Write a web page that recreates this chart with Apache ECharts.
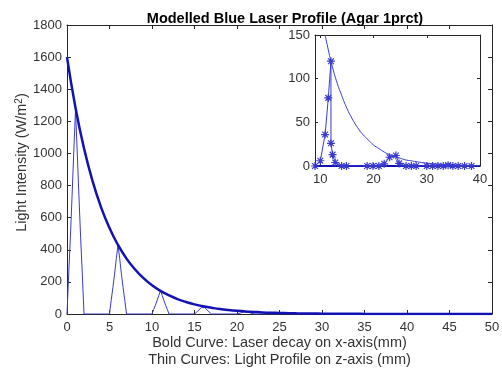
<!DOCTYPE html>
<html>
<head>
<meta charset="utf-8">
<script src="https://cdn.jsdelivr.net/npm/echarts@6/dist/echarts.min.js"></script>
<style>
  html, body { margin: 0; padding: 0; background: #fff; }
  #chart { width: 502px; height: 374px; }
</style>
</head>
<body>
<div id="chart"></div>
<script>
// Bold curve: laser decay along x (mm, W/m^2)
const decayX = [0,1,2,3,4,5,6,7,8,9,10,11,12,13,14,15,16,17,18,19,20,21,22,23,24,25,26,27,28,29,30,31,32,33,34,35,36,37,38,39,40,41,42,43,44,45,46,47,48,49,50];
const decayY = [1600,1285,1032,829,666,535,430,345,278,223,179,144,116,93,75,60,48,39,31,25,20,16,13,10,8,7,5,4,3.4,2.7,2.2,1.8,1.4,1.1,0.9,0.7,0.6,0.5,0.4,0.3,0.2,0.2,0.2,0.1,0.1,0.1,0.1,0,0,0,0];

// Thin curves: light profiles on z
const profileX = [0,0.2,0.4,0.6,0.8,1.0,1.2,1.4,1.6,1.8,2.0,
                  5.0,5.2,5.4,5.6,5.8,6.0,6.2,6.4,6.6,6.8,7.0,
                  10.0,10.2,10.4,10.6,10.8,11.0,11.2,11.4,11.6,11.8,12.0,
                  15.0,15.2,15.4,15.6,15.8,16.0,16.2,16.4,16.6,16.8,17.0,
                  20.0,20.2,20.4,20.6,20.8,21.0,21.2,21.4,21.6,21.8,22.0,
                  25.0,25.4,25.8,26.0,26.2,26.6,27.0,
                  50];
const profileY = [0,250,480,740,1015,1270,1015,740,480,250,0,
                  0,85,165,250,345,430,345,250,165,85,0,
                  0,29,55,84,116,145,116,84,55,29,0,
                  0,10,19,29,40,50,40,29,19,10,0,
                  0,3,6,9,13,16,13,9,6,3,0,
                  0,2,4,5,4,2,0,
                  0];

// Inset: decay curve
const insetDecayX = [10.9,11.5,12,13,14,15,16,17,18,19,20,21,22,23,24,25,26,27,28,29,30,31,32,33,34,35,36,37,38,39,40];
const insetDecayY = [150,133,120,98,81,66,54,44,36,30,24,20,16,13,11,9,7,6,5,4,3.3,2.7,2.2,1.8,1.5,1.2,1,0.8,0.7,0.6,0.5];

// Inset: sampled profile (asterisk markers)
const insetScanX = [9,10,10.9,11.5,12,12,12.3,12.8,14,14.9,18.8,19.9,21,22,23,24.2,24.8,26.1,27.1,28,30,31.1,32.1,33.1,34,34.9,35.9,37.1,38.4];
const insetScanY = [0,6,36,78,120,26,13,4,0,0,0,0,0,2.5,10,12,3,0,0,0,0,0,0,0,1,0,0,0,0];

// Inset: zero baseline
const insetBaseX = [9,40];
const insetBaseY = [0,0];

// Tick labels
const mainXTicks = [0,5,10,15,20,25,30,35,40,45,50];
const mainYTicks = [0,200,400,600,800,1000,1200,1400,1600,1800];
const insetXTicks = [10,20,30,40];
const insetYTicks = [0,50,100,150];

const pairs = (xs, ys) => xs.map((x, i) => [x, ys[i]]);

const FONT = 'Liberation Sans';
const AXIS = '#262626';
const LABEL = '#333333';
const BOLD_BLUE = '#1212b4';
const THIN_BLUE = '#3a3ad0';

const asterisk = 'path://M0,-5L0,5M-5,0L5,0M-3.6,-3.6L3.6,3.6M-3.6,3.6L3.6,-3.6';

function tickAxis(gridIndex, position, min, max, ticks, show, len, margin, extra) {
  return Object.assign({
    type: 'value', gridIndex, position, min, max,
    axisLine: { show: true, onZero: false, lineStyle: { color: AXIS, width: 1 } },
    axisTick: { show: true, inside: true, length: len, lineStyle: { color: AXIS }, customValues: ticks },
    axisLabel: { show: show, color: LABEL, fontFamily: FONT, fontSize: 13, margin: margin,
                 customValues: ticks, formatter: v => String(v) },
    splitLine: { show: false },
    nameMoveOverlap: false
  }, extra || {});
}

const chart = echarts.init(document.getElementById('chart'), null, { renderer: 'canvas' });
chart.setOption({
  backgroundColor: '#ffffff',
  animation: false,
  title: {
    text: 'Modelled Blue Laser Profile (Agar 1prct)',
    left: 280, top: 6, textAlign: 'center',
    textStyle: { fontFamily: FONT, fontSize: 14.5, fontWeight: 'bold', color: '#000' }
  },
  grid: [
    { left: 67, right: 10, top: 25, bottom: 60, outerBoundsMode: 'none' },
    { left: 315, right: 22, top: 35, bottom: 208, outerBoundsMode: 'none',
      show: true, backgroundColor: '#fff', borderWidth: 0 }
  ],
  xAxis: [
    tickAxis(0, 'bottom', 0, 50, mainXTicks, true, 4, 7, {
      name: 'Bold Curve: Laser decay on x-axis(mm)\nThin Curves: Light Profile on z-axis (mm)',
      nameLocation: 'middle', nameGap: 20,
      nameTextStyle: { fontFamily: FONT, fontSize: 14.5, color: LABEL, lineHeight: 17 }
    }),
    tickAxis(0, 'top', 0, 50, mainXTicks, false, 4, 7),
    tickAxis(1, 'bottom', 9, 40, insetXTicks, true, 3, 7),
    tickAxis(1, 'top', 9, 40, insetXTicks, false, 3, 7)
  ],
  yAxis: [
    tickAxis(0, 'left', 0, 1800, mainYTicks, true, 4, 5, {
      name: 'Light Intensity (W/m{sup|2})',
      nameLocation: 'middle', nameGap: 37,
      nameTextStyle: {
        fontFamily: FONT, fontSize: 14.5, color: LABEL, padding: [0, 0, 0, 14],
        rich: { sup: { fontFamily: FONT, fontSize: 10, color: LABEL, verticalAlign: 'top', padding: [0, 0, 6, 0] } }
      }
    }),
    tickAxis(0, 'right', 0, 1800, mainYTicks, false, 4, 5),
    tickAxis(1, 'left', 0, 150, insetYTicks, true, 3, 5),
    tickAxis(1, 'right', 0, 150, insetYTicks, false, 3, 5)
  ],
  series: [
    {
      type: 'line', xAxisIndex: 0, yAxisIndex: 0,
      data: pairs(profileX, profileY),
      showSymbol: false, smooth: false,
      lineStyle: { color: THIN_BLUE, width: 1 }, z: 3
    },
    {
      type: 'line', xAxisIndex: 0, yAxisIndex: 0,
      data: pairs(decayX, decayY),
      showSymbol: false, smooth: true,
      lineStyle: { color: BOLD_BLUE, width: 2.5 }, z: 4
    },
    {
      type: 'line', xAxisIndex: 2, yAxisIndex: 2,
      data: pairs(insetBaseX, insetBaseY),
      showSymbol: false,
      lineStyle: { color: BOLD_BLUE, width: 2 }, z: 5
    },
    {
      type: 'line', xAxisIndex: 2, yAxisIndex: 2,
      data: pairs(insetDecayX, insetDecayY),
      showSymbol: false, smooth: true,
      lineStyle: { color: THIN_BLUE, width: 1 }, z: 5
    },
    {
      type: 'line', xAxisIndex: 2, yAxisIndex: 2,
      data: pairs(insetScanX, insetScanY),
      symbol: asterisk, symbolSize: 8, showAllSymbol: true,
      itemStyle: { color: THIN_BLUE, borderColor: THIN_BLUE, borderWidth: 1.2 },
      lineStyle: { color: THIN_BLUE, width: 1 }, z: 6
    }
  ]
});
</script>
</body>
</html>
